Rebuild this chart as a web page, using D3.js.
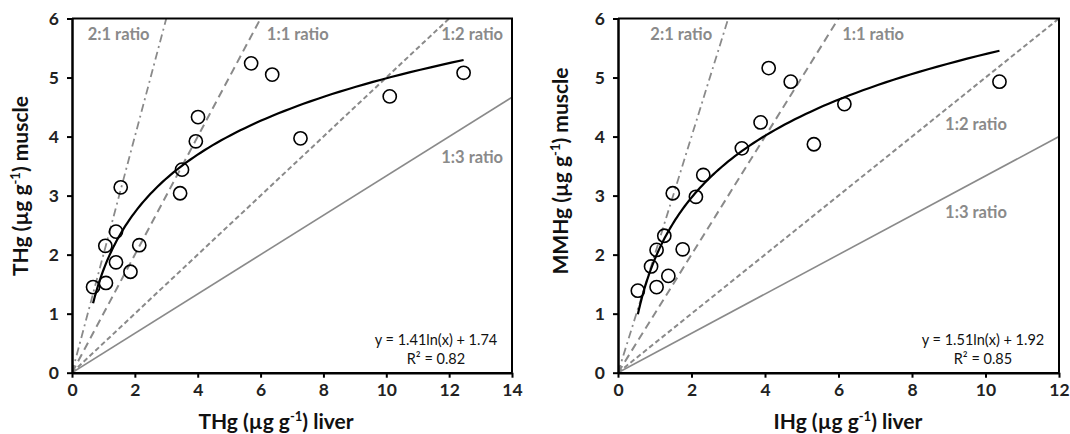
<!DOCTYPE html>
<html>
<head>
<meta charset="utf-8">
<script src="https://cdn.jsdelivr.net/npm/d3@7"></script>
<style>
  body { margin: 0; background: #fff; }
  svg { display: block; font-family: Lato, "Open Sans", sans-serif; }
</style>
</head>
<body>
<svg id="chart" width="1070" height="434"></svg>
<script>
// THg muscle vs THg liver (left panel)
var leftX = [0.67, 1.08, 1.06, 1.40, 1.40, 1.86, 2.14, 1.55, 3.44, 3.50, 3.94, 4.01, 5.70, 6.37, 7.27, 10.11, 12.46];
var leftY = [1.45, 1.52, 2.15, 2.39, 1.87, 1.71, 2.16, 3.14, 3.04, 3.44, 3.92, 4.33, 5.24, 5.05, 3.97, 4.68, 5.08];

// MMHg muscle vs IHg liver (right panel)
var rightX = [0.54, 0.90, 1.05, 1.05, 1.26, 1.37, 1.76, 1.49, 2.12, 2.32, 3.37, 3.88, 4.10, 4.70, 5.33, 6.16, 10.38];
var rightY = [1.39, 1.80, 1.45, 2.08, 2.32, 1.64, 2.09, 3.04, 2.98, 3.35, 3.80, 4.24, 5.16, 4.93, 3.87, 4.55, 4.93];

// log fits y = a ln(x) + b
var leftFit = {a: 1.41, b: 1.74, r2: "0.82"};
var rightFit = {a: 1.51, b: 1.92, r2: "0.85"};

var leftXTicks = [0, 2, 4, 6, 8, 10, 12, 14];
var rightXTicks = [0, 2, 4, 6, 8, 10, 12];
var yTicks = [0, 1, 2, 3, 4, 5, 6];

// reference ratio lines (muscle : liver)
var ratios = [
  {name: "2:1 ratio", slope: 2, dash: "8,4,2,4", width: 1.8},
  {name: "1:1 ratio", slope: 1, dash: "8,5", width: 2},
  {name: "1:2 ratio", slope: 0.5, dash: "5,3", width: 2},
  {name: "1:3 ratio", slope: 1 / 3, dash: null, width: 1.6}
];

var gray = "#8a8a8a";
var svg = d3.select("#chart");

function drawPanel(opt) {
  var width = opt.right - opt.left,
      height = 372.7 - 18.5;

  var x = d3.scaleLinear().domain([0, opt.xMax]).range([0, width]);
  var y = d3.scaleLinear().domain([0, 6]).range([height, 0]);

  var g = svg.append("g")
      .attr("transform", "translate(" + opt.left + "," + 18.5 + ")");

  g.append("clipPath").attr("id", opt.id + "-clip")
    .append("rect").attr("width", width).attr("height", height);

  // ratio lines
  var lines = g.append("g").attr("clip-path", "url(#" + opt.id + "-clip)");
  lines.selectAll("line")
      .data(ratios)
      .enter().append("line")
      .attr("x1", x(0))
      .attr("y1", y(0))
      .attr("x2", x(opt.xMax))
      .attr("y2", d => y(d.slope * opt.xMax))
      .attr("stroke", gray)
      .attr("stroke-width", d => d.width)
      .attr("stroke-dasharray", d => d.dash);

  // ratio labels
  g.selectAll(".ratio-label")
      .data(ratios)
      .enter().append("text")
      .attr("class", "ratio-label")
      .attr("x", (d, i) => x(opt.labelPos[i][0]))
      .attr("y", (d, i) => y(opt.labelPos[i][1]))
      .attr("fill", gray)
      .attr("font-size", "16.5px")
      .attr("font-weight", "bold")
      .text(d => d.name);

  // fitted curve
  var xmin = d3.min(opt.xs), xmax = d3.max(opt.xs);
  var curve = d3.range(0, 101).map(function(i) {
    var xv = xmin * Math.pow(xmax / xmin, i / 100);
    return [xv, opt.fit.a * Math.log(xv) + opt.fit.b];
  });
  g.append("path")
      .datum(curve)
      .attr("fill", "none")
      .attr("stroke", "#000")
      .attr("stroke-width", 2.2)
      .attr("d", d3.line().x(d => x(d[0])).y(d => y(d[1])));

  // points
  g.selectAll(".pt")
      .data(opt.xs.map((v, i) => [v, opt.ys[i]]))
      .enter().append("circle")
      .attr("class", "pt")
      .attr("cx", d => x(d[0]))
      .attr("cy", d => y(d[1]))
      .attr("r", 6.6)
      .attr("fill", "none")
      .attr("stroke", "#000")
      .attr("stroke-width", 1.6);

  // frame (top / right)
  g.append("path")
      .attr("d", "M0,0H" + width + "V" + height)
      .attr("fill", "none")
      .attr("stroke", "#000")
      .attr("stroke-width", 2);

  // axes
  var xAxis = g.append("g")
      .attr("transform", "translate(0," + height + ")")
      .call(d3.axisBottom(x).tickValues(opt.xTicks).tickFormat(d3.format("d"))
        .tickSize(5).tickPadding(6).tickSizeOuter(0));
  var yAxis = g.append("g")
      .call(d3.axisLeft(y).tickValues(yTicks).tickFormat(d3.format("d"))
        .tickSize(5).tickPadding(8).tickSizeOuter(0));

  [xAxis, yAxis].forEach(function(ax) {
    ax.select(".domain").attr("stroke-width", 2.5);
    ax.selectAll(".tick line").attr("stroke-width", 2);
    ax.selectAll(".tick text")
        .attr("font-family", "Lato, sans-serif")
        .attr("font-size", "17.5px")
        .attr("font-weight", "bold")
        .attr("fill", "#222");
  });

  // equation
  var eq = g.append("text")
      .attr("text-anchor", "middle")
      .attr("font-size", "14.5px")
      .attr("fill", "#111");
  eq.append("tspan")
      .attr("x", width - 76).attr("y", height - 28)
      .text("y = " + opt.fit.a.toFixed(2) + "ln(x) + " + opt.fit.b.toFixed(2));
  eq.append("tspan")
      .attr("x", width - 76).attr("y", height - 9)
      .text("R\u00b2 = " + opt.fit.r2);

  // x axis title
  var xt = svg.append("text")
      .attr("x", opt.xTitleX)
      .attr("y", 429)
      .attr("text-anchor", "middle")
      .attr("font-size", "21px")
      .attr("font-weight", "bold")
      .attr("fill", "#111");
  xt.append("tspan").text(opt.xName + " (\u00b5g g");
  xt.append("tspan").attr("dy", -8).attr("font-size", "13px").text("-1");
  xt.append("tspan").attr("dy", 8).text(") liver");

  // y axis title
  var yt = svg.append("text")
      .attr("transform", "translate(" + opt.yTitleX + "," + opt.yTitleY + ")rotate(-90)")
      .attr("text-anchor", "middle")
      .attr("font-size", "21px")
      .attr("font-weight", "bold")
      .attr("fill", "#111");
  yt.append("tspan").text(opt.yName + " (\u00b5g g");
  yt.append("tspan").attr("dy", -8).attr("font-size", "13px").text("-1");
  yt.append("tspan").attr("dy", 8).text(") muscle");
}

drawPanel({
  id: "left", left: 72, right: 512, xMax: 14,
  xs: leftX, ys: leftY, fit: leftFit, xTicks: leftXTicks,
  labelPos: [[0.5, 5.64], [6.2, 5.64], [11.75, 5.64], [11.75, 3.55]],
  xName: "THg", yName: "THg",
  xTitleX: 276, yTitleX: 28, yTitleY: 186
});

drawPanel({
  id: "right", left: 618, right: 1059, xMax: 12,
  xs: rightX, ys: rightY, fit: rightFit, xTicks: rightXTicks,
  labelPos: [[0.88, 5.64], [6.1, 5.64], [8.9, 4.11], [8.9, 2.62]],
  xName: "IHg", yName: "MMHg",
  xTitleX: 848, yTitleX: 568, yTitleY: 171
});
</script>
</body>
</html>
